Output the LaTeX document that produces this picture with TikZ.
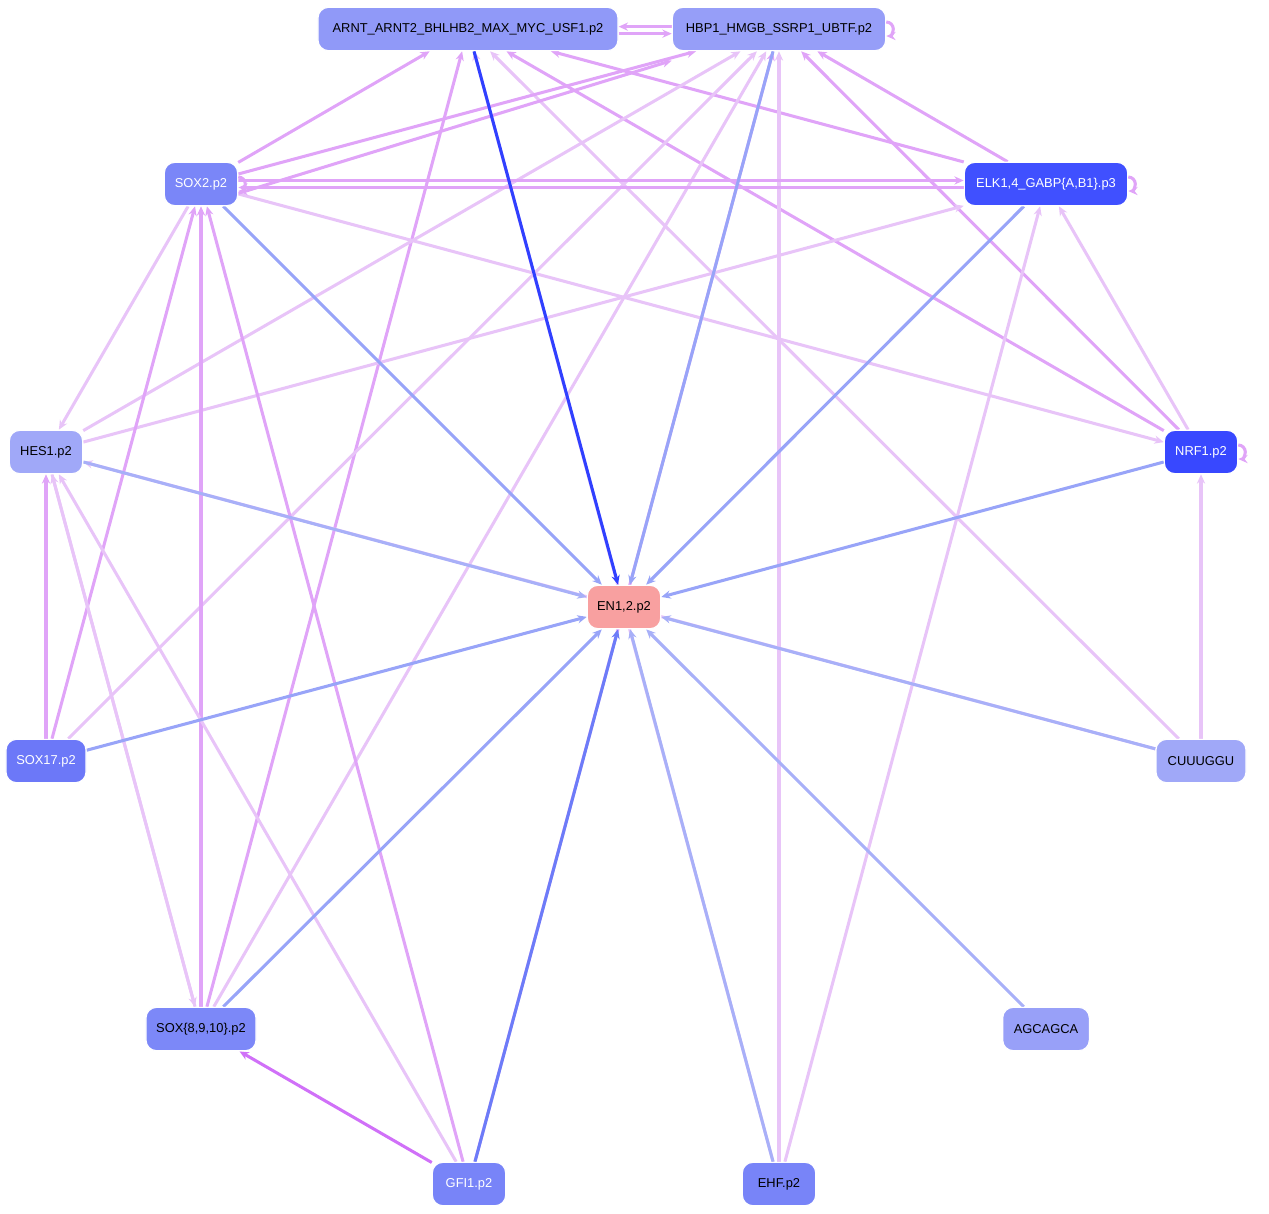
\documentclass[tikz,border=0pt]{standalone}
\usepackage{fontspec}
\setmainfont{Liberation Sans}
\usetikzlibrary{arrows.meta,backgrounds}
\definecolor{lp}{HTML}{E8C4F8}
\definecolor{mp}{HTML}{E0A4F8}
\definecolor{dp}{HTML}{D070F8}
\definecolor{lb}{HTML}{A8B0F8}
\definecolor{mb}{HTML}{98A4F8}
\definecolor{db}{HTML}{3040FF}
\definecolor{bb}{HTML}{6C7CF8}
\tikzset{
  tf/.style={draw=white, line width=1pt, rounded corners=9pt, minimum height=1.3cm, inner sep=2pt, font=\fontsize{11}{13}\selectfont},
  ed/.style={-{Stealth[length=8pt,width=7pt]}, line width=2.6pt}
}
\begin{document}
\begin{tikzpicture}[x=0.03cm,y=-0.03cm]
			\useasboundingbox (0,0) rectangle (1269,1214);
			% nodes
			\node[tf, fill={rgb,255:red,144;green,153;blue,248}, minimum width=9cm] (arnt) at (468,29) {ARNT\_ARNT2\_BHLHB2\_MAX\_MYC\_USF1.p2};
			\node[tf, fill={rgb,255:red,150;green,158;blue,248}, minimum width=6.4cm] (hbp) at (779,29) {HBP1\_HMGB\_SSRP1\_UBTF.p2};
			\node[tf, fill={rgb,255:red,122;green,134;blue,248}, text=white, minimum width=2.2cm] (sox2) at (201,184) {SOX2.p2};
			\node[tf, fill={rgb,255:red,64;green,80;blue,255}, text=white, minimum width=4.9cm] (elk) at (1046,184) {ELK1,4\_GABP\{A,B1\}.p3};
			\node[tf, fill={rgb,255:red,160;green,168;blue,248}, minimum width=2.2cm] (hes) at (46,452) {HES1.p2};
			\node[tf, fill={rgb,255:red,56;green,72;blue,255}, text=white, minimum width=2.2cm] (nrf) at (1201,452) {NRF1.p2};
			\node[tf, fill={rgb,255:red,248;green,160;blue,160}, minimum width=2.2cm] (en) at (624,607) {EN1,2.p2};
			\node[tf, fill={rgb,255:red,108;green,120;blue,248}, text=white, minimum width=2.4cm] (sox17) at (46,761) {SOX17.p2};
			\node[tf, fill={rgb,255:red,160;green,168;blue,248}, minimum width=2.7cm] (cuu) at (1201,761) {CUUUGGU};
			\node[tf, fill={rgb,255:red,124;green,136;blue,248}, minimum width=3.3cm] (sox8) at (201,1029) {SOX\{8,9,10\}.p2};
			\node[tf, fill={rgb,255:red,152;green,160;blue,248}, minimum width=2.6cm] (agc) at (1046,1029) {AGCAGCA};
			\node[tf, fill={rgb,255:red,120;green,132;blue,248}, text=white, minimum width=2.2cm] (gfi) at (469,1184) {GFI1.p2};
			\node[tf, fill={rgb,255:red,120;green,132;blue,248}, minimum width=2.2cm] (ehf) at (779,1184) {EHF.p2};
			\begin{scope}[on background layer]
			% other edges
			\foreach \s/\t/\c in {sox2/arnt/mp, sox8/arnt/mp, ehf/arnt/lp, cuu/arnt/lp, nrf/arnt/mp, elk/arnt/mp,
				sox2/hbp/mp, hes/hbp/lp, sox17/hbp/lp, sox8/hbp/lp, gfi/hbp/mp, ehf/hbp/lp, elk/hbp/mp, nrf/hbp/mp,
				sox2/hes/lp, hes/elk/lp, sox2/nrf/lp, cuu/hes/lp, cuu/nrf/lp, nrf/elk/lp, ehf/elk/lp,
				sox17/sox2/mp, sox17/hes/mp, sox8/sox2/mp, gfi/sox2/mp, gfi/hes/lp, gfi/sox8/dp, sox8/hes/lp, hes/sox8/lp}
				\draw[ed, \c] (\s) -- (\t);
			\draw[ed, mp] ([yshift=3pt]sox2.east) -- ([yshift=3pt]elk.west);
			\draw[ed, mp] ([yshift=-3pt]elk.west) -- ([yshift=-3pt]sox2.east);
			\draw[ed, mp] ([yshift=-8pt]sox2.east) -- ([yshift=-8pt]hbp.south west);
			\draw[ed, mp] ([yshift=2pt]hbp.west) -- ([yshift=2pt]arnt.east);
			\draw[ed, mp] ([yshift=-4pt]arnt.east) -- ([yshift=-4pt]hbp.west);
			% edges into EN1
			\foreach \s/\c in {hbp/mb, sox2/mb, elk/mb, hes/lb, nrf/mb, sox17/mb, cuu/lb, sox8/mb, ehf/lb, agc/lb, gfi/bb, arnt/db}
				\draw[ed, \c] (\s) -- (en);
			\end{scope}
			% self loops
			\foreach \n in {hbp, sox2, elk, nrf}
				\draw[ed, mp] ([yshift=6pt]\n.east) arc[start angle=90, end angle=-90, radius=6pt];
		\end{tikzpicture}
\end{document}
